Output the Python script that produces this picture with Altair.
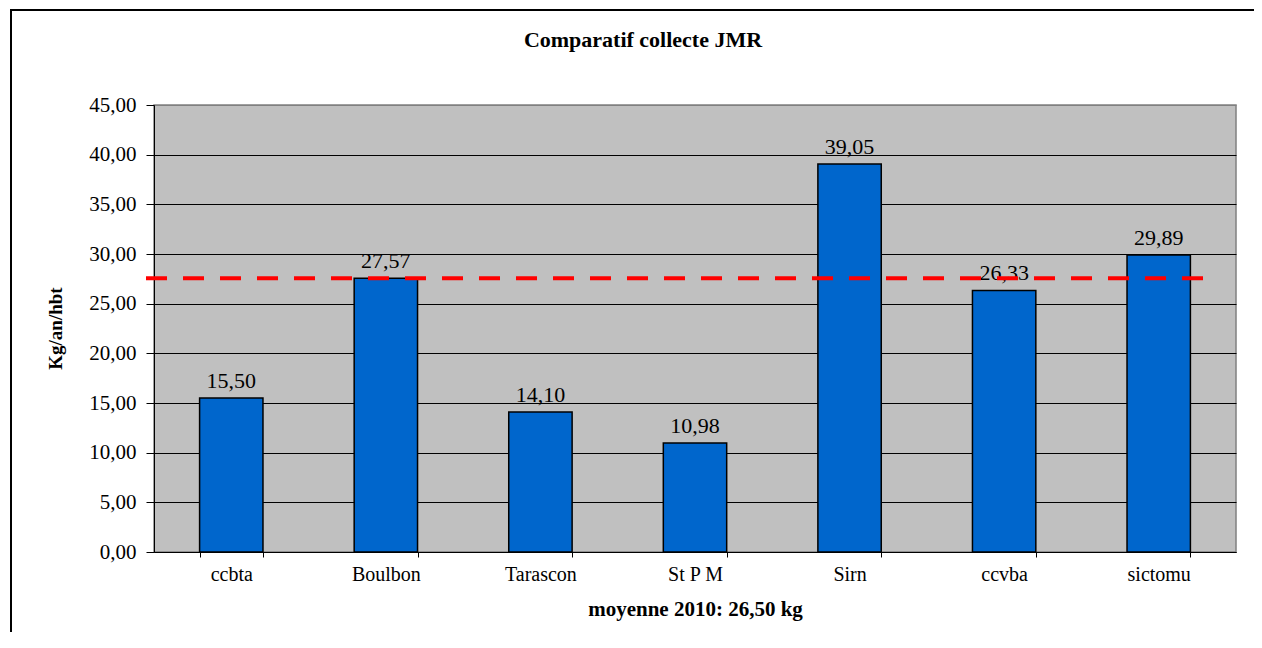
import altair as alt
import pandas as pd

categories = ["ccbta", "Boulbon", "Tarascon", "St P M", "Sirn", "ccvba", "sictomu"]
values = [15.50, 27.57, 14.10, 10.98, 39.05, 26.33, 29.89]
avg_line = [27.57]
y_ticks = [0, 5, 10, 15, 20, 25, 30, 35, 40, 45]
title_text = ["Comparatif collecte JMR"]
x_title = "moyenne 2010: 26,50 kg"
y_title = "Kg/an/hbt"

SERIF = "Liberation Serif"

df = pd.DataFrame({"cat": categories, "val": values})

x_enc = alt.X(
    "cat:N",
    sort=categories,
    scale=alt.Scale(paddingInner=0.59, paddingOuter=0.295),
    axis=alt.Axis(
        title=x_title,
        labelAngle=0,
        labelFont=SERIF,
        labelFontSize=20,
        labelColor="black",
        labelPadding=7,
        tickBand="extent",
        tickSize=5,
        tickColor="black",
        domainColor="black",
        domainWidth=1,
        titleFont=SERIF,
        titleFontSize=21,
        titleFontWeight="bold",
        titleColor="black",
        titleX=541,
        titleY=57,
        titleAlign="center",
        titleBaseline="middle",
    ),
)

y_enc = alt.Y(
    "val:Q",
    scale=alt.Scale(domain=[0, 45], nice=False),
    axis=alt.Axis(
        title=y_title,
        values=y_ticks,
        labelExpr="replace(format(datum.value, '.2f'), '.', ',')",
        labelFont=SERIF,
        labelFontSize=21,
        labelColor="black",
        labelPadding=10,
        tickSize=8,
        tickColor="black",
        domainColor="black",
        domainWidth=1,
        grid=True,
        gridColor={"condition": {"test": "datum.value === 45", "value": "#808080"}, "value": "black"},
        gridWidth=1,
        titleFont=SERIF,
        titleFontSize=19,
        titleFontWeight="bold",
        titleColor="black",
        titleAngle=270,
        titleX=-99,
        titleY=223,
        titleAlign="center",
        titleBaseline="middle",
    ),
)

bars = alt.Chart(df).mark_bar(
    color="#0066CC", stroke="black", strokeWidth=1.5
).encode(x=x_enc, y=y_enc)

labels = alt.Chart(df).transform_calculate(
    lab="replace(format(datum.val, '.2f'), '.', ',')"
).mark_text(
    font=SERIF, fontSize=22, color="black", baseline="alphabetic", dy=-10
).encode(x=alt.X("cat:N", sort=categories), y="val:Q", text="lab:N")

rule = alt.Chart(pd.DataFrame({"v": avg_line})).mark_rule(
    color="#FF0000", strokeWidth=4, strokeDash=[21, 16], strokeCap="butt"
).encode(y="v:Q", x=alt.value(-8), x2=alt.value(1059))

frame_df = pd.DataFrame({"b": [1]})
border_top = alt.Chart(frame_df).mark_rule(color="black", strokeWidth=2).encode(
    x=alt.value(-144), x2=alt.value(1200), y=alt.value(-95)
)
border_left = alt.Chart(frame_df).mark_rule(color="black", strokeWidth=2).encode(
    x=alt.value(-143), y=alt.value(-96), y2=alt.value(700)
)

title = alt.Chart(pd.DataFrame({"t": title_text})).mark_text(
    font=SERIF, fontSize=22, fontWeight="bold", color="black", baseline="middle", align="center"
).encode(text="t:N", x=alt.value(489), y=alt.value(-65))

chart = alt.layer(bars, labels, rule, border_top, border_left, title).properties(
    width=1082,
    height=447,
    autosize=alt.AutoSizeParams(type="none"),
    padding={"left": 146, "top": 97, "right": 18, "bottom": 80},
    background="white",
).configure_view(
    stroke="#808080", strokeWidth=1.5, fill="#C0C0C0"
)

chart.save("out.html", embed_options={"renderer": "svg", "actions": False})
